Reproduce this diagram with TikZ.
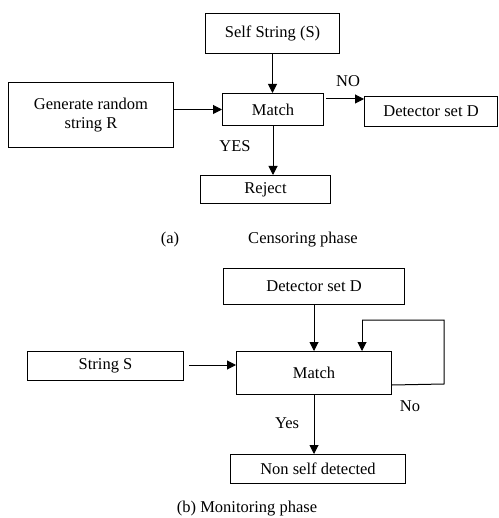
\documentclass[tikz,border=0pt]{standalone}
\usepackage{fontspec}
\setmainfont{Liberation Serif}
\usetikzlibrary{arrows.meta,calc}
\begin{document}
\begin{tikzpicture}[x=1pt,y=-1pt,
  every node/.style={font=\fontsize{16.5}{19}\selectfont},
  box/.style={draw,line width=1pt,inner sep=0pt,anchor=north west,align=center},
  arr/.style={line width=1pt,-{Triangle[length=9pt,width=9pt]}},
  ln/.style={line width=1pt},
  lbl/.style={inner sep=0pt}]
\useasboundingbox (0,0) rectangle (498,518);
% (a) censoring phase
\node[box,minimum width=134pt,minimum height=40pt] (self) at (205,13) {Self String (S)};
\node[box,minimum width=101pt,minimum height=32pt] (match) at (222,93) {Match};
\node[box,minimum width=165pt,minimum height=65pt] (gen) at (8,82) {Generate random\\string R};
\node[box,minimum width=133pt,minimum height=30pt] (det) at (364,96) {Detector set D};
\node[box,minimum width=130pt,minimum height=28pt] (rej) at (200,175) {Reject};
\draw[arr] (self.south) -- (self.south |- match.north);
\draw[arr] (match.west -| gen.east) -- (match.west);
\coordinate (nostart) at ($(match.north east)+(2,6)$);
\draw[arr] (nostart) -- (nostart -| det.west);
\draw[arr] (match.south) -- (match.south |- rej.north);
\node[lbl] (no) at (348,81) {NO};
\node[lbl] (yes) at (235,146) {YES};
\node[lbl] (capa1) at (170,240) {(a)};
\node[lbl] (capa2) at (303,240) {Censoring phase};
% (b) monitoring phase
\node[box,minimum width=181pt,minimum height=36pt] (det2) at (223,268) {Detector set D};
\node[box,minimum width=155pt,minimum height=43pt] (match2) at (236,351) {Match};
\node[box,minimum width=156pt,minimum height=29pt] (str) at (27,351) {String S};
\node[box,minimum width=175pt,minimum height=29pt] (ns) at (230,454) {Non self detected};
\draw[arr] (det2.south) -- (det2.south |- match2.north);
\coordinate (sstart) at ($(str.east)+(5,-1)$);
\draw[arr] (sstart) -- (sstart -| match2.west);
\coordinate (lp1) at ($(match2.south east)+(0,-10)$);
\coordinate (lp2) at (444,384);
\coordinate (lp3) at (444,320);
\coordinate (lp4) at (362,320);
\draw[ln] (lp1) -- (lp2) -- (lp3) -- (lp4);
\draw[arr] (lp4) -- (lp4 |- match2.north);
\draw[arr] (match2.south) -- (match2.south |- ns.north);
\node[lbl] (no2) at (410,406) {No};
\node[lbl] (yes2) at (287,423) {Yes};
\node[lbl] (capb) at (247,509) {(b) Monitoring phase};
\end{tikzpicture}
\end{document}
